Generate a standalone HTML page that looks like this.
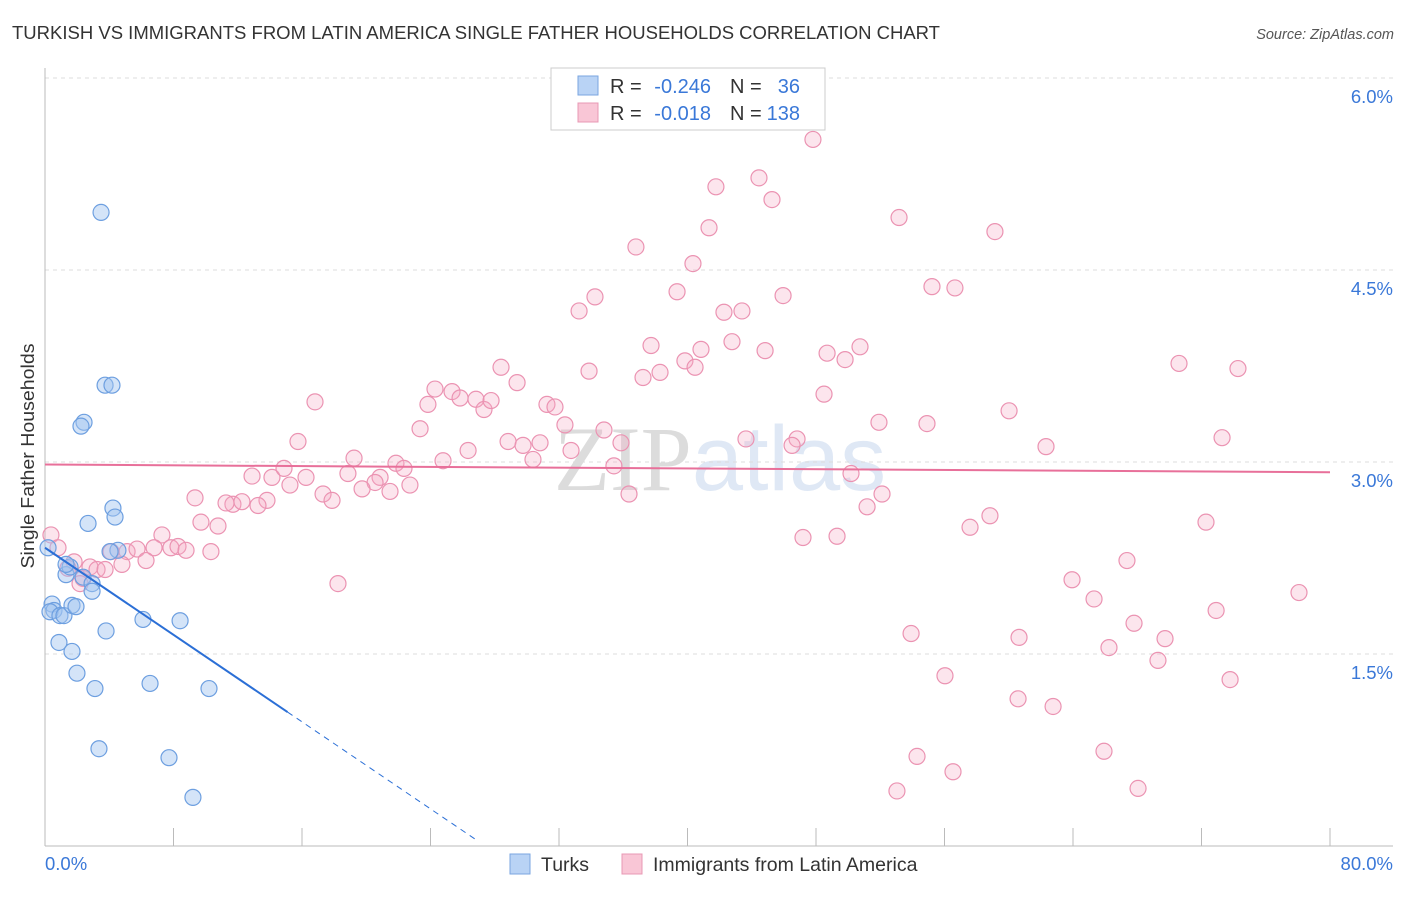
<!DOCTYPE html>
<html><head><meta charset="utf-8"><style>
body{margin:0;background:#fff;font-family:"Liberation Sans",sans-serif}
svg text{font-family:"Liberation Sans",sans-serif}
</style></head><body>
<svg id="chart" width="1406" height="892" xmlns="http://www.w3.org/2000/svg">
<text x="12" y="39" font-size="18.5" fill="#333" textLength="928" lengthAdjust="spacingAndGlyphs">TURKISH VS IMMIGRANTS FROM LATIN AMERICA SINGLE FATHER HOUSEHOLDS CORRELATION CHART</text>
<text x="1394" y="39" font-size="14.5" fill="#555" font-style="italic" text-anchor="end">Source: ZipAtlas.com</text>
<text x="720" y="490" font-size="92" text-anchor="middle" fill="#e6e6e6"><tspan font-family="Liberation Serif" fill="#dcdcdc">ZIP</tspan><tspan fill="#dfe8f5">atlas</tspan></text>
<g id="grid"></g>
<g id="axes"></g>
<g id="pink"></g>
<g id="blue"></g>
<g id="lines"></g>
<text transform="translate(34,456) rotate(-90)" font-size="18" fill="#333" text-anchor="middle" textLength="225" lengthAdjust="spacingAndGlyphs">Single Father Households</text>
<g>
<rect x="551" y="68" width="274" height="62" fill="#fff" stroke="#ccc"/>
<rect x="578" y="76" width="20" height="19" fill="#b9d3f5" stroke="#7aa6e0"/>
<rect x="578" y="103" width="20" height="19" fill="#f9c6d6" stroke="#e898b4"/>
<text x="610" y="93" font-size="20" fill="#333">R =</text>
<text x="711" y="93" font-size="20" fill="#3a78d8" text-anchor="end">-0.246</text>
<text x="730" y="93" font-size="20" fill="#333">N =</text>
<text x="800" y="93" font-size="20" fill="#3a78d8" text-anchor="end">36</text>
<text x="610" y="120" font-size="20" fill="#333">R =</text>
<text x="711" y="120" font-size="20" fill="#3a78d8" text-anchor="end">-0.018</text>
<text x="730" y="120" font-size="20" fill="#333">N =</text>
<text x="800" y="120" font-size="20" fill="#3a78d8" text-anchor="end">138</text>
</g>
<g>
<rect x="510" y="854" width="20" height="20" fill="#b9d3f5" stroke="#7aa6e0"/>
<text x="541" y="871" font-size="19.5" fill="#333">Turks</text>
<rect x="622" y="854" width="20" height="20" fill="#f9c6d6" stroke="#e898b4"/>
<text x="653" y="871" font-size="19.5" fill="#333">Immigrants from Latin America</text>
</g>
</svg>
<script>
const yTicks=[1.5,3.0,4.5,6.0];
const yTickLabels=["1.5%","3.0%","4.5%","6.0%"];
const xTicks=[0,8,16,24,32,40,48,56,64,72,80];
const xEndLabels=["0.0%","80.0%"];
const turksX=[3.49,3.74,4.17,2.43,2.24,4.23,4.36,2.68,4.54,4.05,0.19,1.31,1.56,2.37,2.93,2.93,0.44,0.56,0.31,0.93,1.18,1.68,1.93,3.80,6.10,8.41,0.87,1.68,1.99,3.11,6.54,10.21,3.36,7.72,9.21,1.31];
const turksY=[4.95,3.60,3.60,3.31,3.28,2.64,2.57,2.52,2.31,2.30,2.33,2.12,2.18,2.10,2.05,1.99,1.89,1.84,1.83,1.80,1.80,1.88,1.87,1.68,1.77,1.76,1.59,1.52,1.35,1.23,1.27,1.23,0.76,0.69,0.38,2.20];
const latX=[47.81,44.45,41.77,45.26,53.17,41.34,59.14,36.79,40.34,55.22,56.65,34.24,39.35,45.95,33.25,42.27,43.39,37.73,42.77,44.83,48.69,50.74,49.81,40.84,39.84,40.47,38.29,37.23,33.87,28.39,29.39,24.28,25.34,23.84,25.84,26.83,27.33,27.77,31.25,31.75,16.81,48.50,51.92,54.91,60.02,70.60,74.27,23.35,32.37,34.80,43.64,46.82,46.51,62.32,73.28,15.75,26.34,28.83,29.76,30.82,32.75,35.86,19.24,21.85,22.35,24.78,30.38,35.42,50.18,12.89,14.13,14.88,16.25,18.86,20.86,20.55,19.74,21.48,22.72,15.25,17.31,17.87,36.36,52.11,9.34,11.70,12.26,11.27,13.82,13.26,51.18,9.71,10.77,58.83,57.59,72.28,47.19,49.31,7.28,5.11,5.73,6.79,7.84,8.28,8.78,10.33,6.29,4.11,0.37,0.81,1.81,2.80,3.24,3.74,4.79,2.37,2.18,1.43,18.24,63.94,67.36,65.31,78.07,72.91,67.80,69.73,53.92,60.64,66.24,69.29,56.03,73.78,60.58,62.76,65.93,54.29,56.53,53.04,68.05];
const latY=[5.52,5.22,5.15,5.05,4.91,4.83,4.80,4.68,4.55,4.37,4.36,4.29,4.33,4.30,4.18,4.17,4.18,3.91,3.94,3.87,3.85,3.90,3.80,3.88,3.79,3.74,3.70,3.66,3.71,3.74,3.62,3.57,3.55,3.45,3.50,3.49,3.41,3.48,3.45,3.43,3.47,3.53,3.31,3.30,3.40,3.77,3.73,3.26,3.29,3.25,3.18,3.18,3.13,3.12,3.19,3.16,3.09,3.16,3.13,3.15,3.09,3.15,3.03,2.99,2.95,3.01,3.02,2.97,2.91,2.89,2.88,2.95,2.88,2.91,2.88,2.84,2.79,2.77,2.82,2.82,2.75,2.70,2.75,2.75,2.72,2.67,2.69,2.68,2.70,2.66,2.65,2.53,2.50,2.58,2.49,2.53,2.41,2.42,2.43,2.30,2.32,2.33,2.33,2.34,2.31,2.30,2.23,2.30,2.43,2.33,2.22,2.18,2.16,2.16,2.20,2.09,2.05,2.17,2.05,2.08,2.23,1.93,1.98,1.84,1.74,1.62,1.66,1.63,1.55,1.45,1.33,1.30,1.15,1.09,0.74,0.70,0.58,0.43,0.45];
const turksTrend=[2.33,-0.085];
const latTrend=[2.98,-0.00075];

const NS="http://www.w3.org/2000/svg";
const X=v=>45+v/80*1285;
const Y=v=>846-v/1.5*192;
function mk(tag,attrs,parent){const e=document.createElementNS(NS,tag);for(const k in attrs)e.setAttribute(k,attrs[k]);parent.appendChild(e);return e;}
const grid=document.getElementById('grid'),axes=document.getElementById('axes');
yTicks.forEach((t,i)=>{
 const l=mk('line',{x1:45,x2:1393,y1:Y(t),y2:Y(t),stroke:'#ddd','stroke-dasharray':'4,4'},grid);
 
 
 const tx=mk('text',{x:1393,y:Y(t)+25,'font-size':18.5,fill:'#3a78d8','text-anchor':'end'},axes);
 tx.textContent=yTickLabels[i];
 
 
});
mk('line',{x1:45,x2:45,y1:68,y2:846,stroke:'#bbb'},axes);
mk('line',{x1:45,x2:1393,y1:846,y2:846,stroke:'#bbb'},axes);
xTicks.forEach(t=>{
 const l=mk('line',{x1:X(t),x2:X(t),y1:828,y2:846,stroke:'#bbb'},axes);
 
 
});
const xl0=mk('text',{x:45,y:870,'font-size':18.5,fill:'#3a78d8'},axes);xl0.textContent=xEndLabels[0];


const xl1=mk('text',{x:1393,y:870,'font-size':18.5,fill:'#3a78d8','text-anchor':'end'},axes);xl1.textContent=xEndLabels[1];


const pink=document.getElementById('pink'),blue=document.getElementById('blue');
latX.forEach((v,i)=>{
 const c=mk('circle',{cx:X(v),cy:Y(latY[i]),r:8,fill:'rgba(246,170,196,0.3)',stroke:'#eb93b2','stroke-width':1.2},pink);
 
 
});
turksX.forEach((v,i)=>{
 const c=mk('circle',{cx:X(v),cy:Y(turksY[i]),r:8,fill:'rgba(160,196,240,0.45)',stroke:'#6d9fe0','stroke-width':1.2},blue);
 
 
});
const lines=document.getElementById('lines');
const tY=x=>turksTrend[0]+turksTrend[1]*x;
const b1=mk('line',{x1:X(0),y1:Y(tY(0)),x2:X(15.1),y2:Y(tY(15.1)),stroke:'#2b6fd6','stroke-width':2},lines);


const b2=mk('line',{x1:X(15.1),y1:Y(tY(15.1)),x2:X(26.8),y2:Y(tY(26.8)),stroke:'#2b6fd6','stroke-width':1,'stroke-dasharray':'6,5'},lines);


const lY=x=>latTrend[0]+latTrend[1]*x;
const p1=mk('line',{x1:X(0),y1:Y(lY(0)),x2:X(80),y2:Y(lY(80)),stroke:'#e8709a','stroke-width':2},lines);


</script>
</body></html>
